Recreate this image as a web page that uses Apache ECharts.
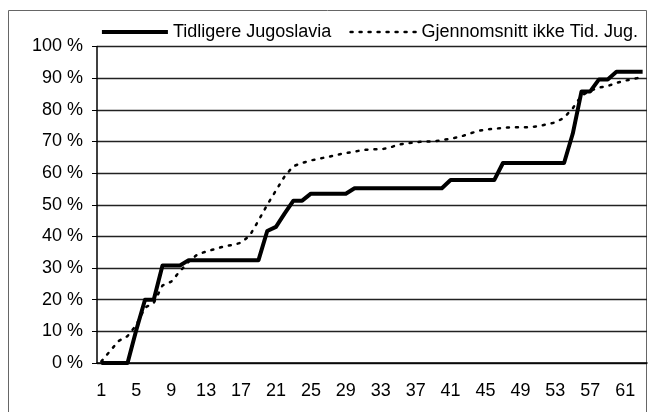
<!DOCTYPE html>
<html>
<head>
<meta charset="utf-8">
<style>
  html, body { margin: 0; padding: 0; background: #fff; }
  #main { width: 657px; height: 412px; }
</style>
<script src="https://cdn.jsdelivr.net/npm/echarts@6/dist/echarts.min.js"></script>
</head>
<body>
<div id="main"></div>
<script>
// x-akse: 1..63
let categories = [
  '1', '2', '3', '4', '5', '6', '7', '8', '9', '10',
  '11', '12', '13', '14', '15', '16', '17', '18', '19', '20',
  '21', '22', '23', '24', '25', '26', '27', '28', '29', '30',
  '31', '32', '33', '34', '35', '36', '37', '38', '39', '40',
  '41', '42', '43', '44', '45', '46', '47', '48', '49', '50',
  '51', '52', '53', '54', '55', '56', '57', '58', '59', '60',
  '61', '62', '63'
];

// Tidligere Jugoslavia (%)
let jugoslavia = [
  0, 0, 0, 0, 10.4, 20, 20, 30.8, 30.8, 30.8,
  32.5, 32.5, 32.5, 32.5, 32.5, 32.5, 32.5, 32.5, 32.5, 41.7,
  43, 47.3, 51.3, 51.3, 53.5, 53.5, 53.5, 53.5, 53.5, 55.2,
  55.2, 55.2, 55.2, 55.2, 55.2, 55.2, 55.2, 55.2, 55.2, 55.2,
  57.8, 57.8, 57.8, 57.8, 57.8, 57.8, 63.2, 63.2, 63.2, 63.2,
  63.2, 63.2, 63.2, 63.2, 72.5, 85.8, 85.8, 89.6, 89.6, 92,
  92, 92, 92
];

// Gjennomsnitt ikke Tid. Jug. (%)
let gjennomsnitt = [
  0.5, 3.8, 7, 8.5, 12, 17.5, 19, 24.5, 25.7, 29,
  32, 34.3, 35.2, 36, 36.8, 37.3, 38, 40.3, 45, 50,
  54.5, 59, 62.2, 63.2, 64, 64.6, 65.1, 65.8, 66.3, 66.8,
  67.3, 67.5, 67.5, 68, 69, 69.4, 69.7, 70, 70, 70.4,
  70.9, 71.4, 72.3, 73.2, 73.8, 74, 74.3, 74.5, 74.5, 74.5,
  74.8, 75.4, 76, 77.5, 80.5, 84.5, 86, 87, 87.5, 88.5,
  89.2, 89.8, 90.3
];

let yTicks = { min: 0, max: 100, interval: 10 };

let font = "'Liberation Sans', Arial, sans-serif";

let solidStyle = { color: '#000', width: 4, join: 'round' };
let dotStyle = { color: '#000', width: 2.5, type: [2, 7], cap: 'round' };

let myChart = echarts.init(document.getElementById('main'));

let option = {
  animation: false,
  backgroundColor: '#fff',
  graphic: [
    {
      // ramme rundt hele figuren
      type: 'rect',
      shape: { x: 8.5, y: 10.5, width: 638, height: 410 },
      style: { fill: 'none', stroke: '#666', lineWidth: 1 },
      silent: true
    }
  ],
  legend: {
    right: 14,
    top: 18,
    itemWidth: 66,
    itemHeight: 14,
    itemGap: 18,
    itemStyle: { opacity: 0 },
    textStyle: { fontFamily: font, fontSize: 18, color: '#000' },
    data: [
      { name: 'Tidligere Jugoslavia', lineStyle: solidStyle },
      { name: 'Gjennomsnitt ikke Tid. Jug.', lineStyle: dotStyle }
    ]
  },
  grid: {
    left: 97,
    right: 10,
    top: 46.5,
    bottom: 49
  },
  xAxis: {
    type: 'category',
    data: categories,
    boundaryGap: true,
    axisLine: { lineStyle: { color: '#000', width: 1.5 } },
    axisTick: { interval: 0, length: 5, lineStyle: { color: '#000', width: 1 } },
    axisLabel: {
      interval: 3,
      margin: 19,
      fontFamily: font,
      fontSize: 18,
      color: '#000'
    },
    splitLine: { show: false }
  },
  yAxis: {
    type: 'value',
    min: yTicks.min,
    max: yTicks.max,
    interval: yTicks.interval,
    axisLine: { show: true, lineStyle: { color: '#000', width: 1.5 } },
    axisTick: { show: true, length: 5, lineStyle: { color: '#000' } },
    axisLabel: {
      margin: 14,
      fontFamily: font,
      fontSize: 18,
      color: '#000',
      formatter: '{value} %'
    },
    splitLine: { show: true, lineStyle: { color: '#222', width: 1.4 } }
  },
  series: [
    {
      name: 'Tidligere Jugoslavia',
      type: 'line',
      data: jugoslavia,
      symbol: 'none',
      z: 3,
      lineStyle: solidStyle,
      itemStyle: { color: '#000' }
    },
    {
      name: 'Gjennomsnitt ikke Tid. Jug.',
      type: 'line',
      data: gjennomsnitt,
      symbol: 'none',
      z: 4,
      lineStyle: dotStyle,
      itemStyle: { color: '#000' }
    }
  ]
};

myChart.setOption(option);
</script>
</body>
</html>
